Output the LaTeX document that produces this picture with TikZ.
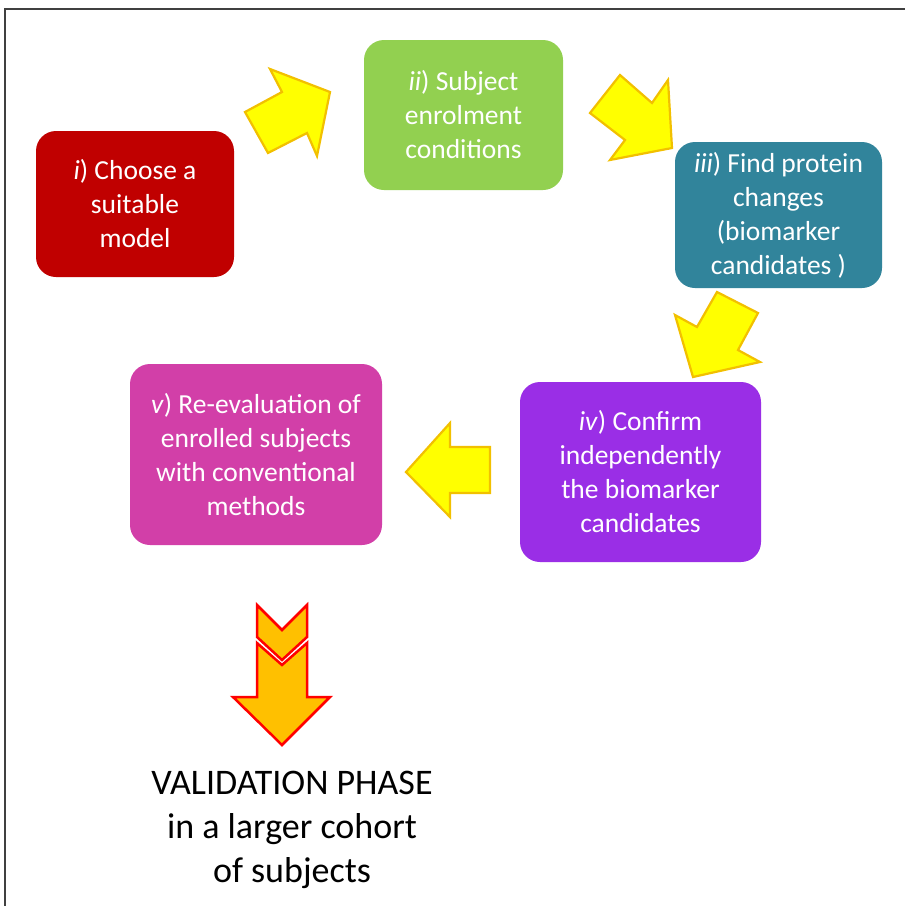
\documentclass[tikz,border=0pt]{standalone}
\usepackage{fontspec}
\setmainfont{Carlito}
\definecolor{cRed}{HTML}{C00000}
\definecolor{cGreen}{HTML}{92D050}
\definecolor{cTeal}{HTML}{31849B}
\definecolor{cPurple}{HTML}{9A2EE6}
\definecolor{cMagenta}{HTML}{D23FA8}
\definecolor{arrowFill}{HTML}{FFFF00}
\definecolor{arrowLine}{HTML}{F2C000}
\definecolor{downFill}{HTML}{FFC000}
\definecolor{downLine}{HTML}{FF0000}
\tikzset{
  stepbox/.style={rounded corners=20pt, text=white, align=center, inner sep=0pt,
    font=\fontsize{27.5}{34}\selectfont},
  blockarrow/.style={fill=arrowFill, draw=arrowLine, line width=2.2pt, line join=miter},
  downarrow/.style={fill=downFill, draw=downLine, line width=2.5pt, line join=miter},
}
\begin{document}
\begin{tikzpicture}[x=1pt,y=-1pt]
\useasboundingbox (0,0) rectangle (905,906);
\fill[white] (0,0) rectangle (905,906);
\draw[line width=1.5pt, black!75] (905,9) -- (5,9) -- (5,906);

\node[stepbox, fill=cRed, minimum width=198pt, minimum height=146pt] (s1) at (135,204)
  {\textit{i}) Choose a\\suitable\\model};
\node[stepbox, fill=cGreen, minimum width=199pt, minimum height=150pt] (s2) at (463.5,115)
  {\textit{ii}) Subject\\enrolment\\conditions};
\node[stepbox, fill=cTeal, minimum width=207pt, minimum height=146pt] (s3) at (778.5,215)
  {\textit{iii}) Find protein\\changes\\(biomarker\\candidates )};
\node[stepbox, fill=cPurple, minimum width=241pt, minimum height=180pt] (s4) at (640.5,472)
  {\textit{iv}) Confirm\\independently\\the biomarker\\candidates};
\node[stepbox, fill=cMagenta, minimum width=252pt, minimum height=181pt] (s5) at (256,454.5)
  {\textit{v}) Re-evaluation of\\enrolled subjects\\with conventional\\methods};

% block arrows
\draw[blockarrow] (270,69) -- (330,92) -- (317,156) -- (307,133) -- (268,153) -- (245,112) -- (282,92) -- cycle;
\draw[blockarrow] (620,75) -- (652,103) -- (668,80) -- (672,148) -- (610,160) -- (625,140) -- (590,113) -- cycle;
\draw[blockarrow] (717,292) -- (758,313) -- (738,350) -- (760,362) -- (693,377) -- (675,315) -- (697,327) -- cycle;
\draw[blockarrow] (406,472) -- (450,423) -- (450,447) -- (490,447) -- (490,493) -- (450,493) -- (450,517) -- cycle;

% down arrow
\draw[downarrow] (257,605) -- (282,630) -- (307,605) -- (307,637) -- (282,660) -- (257,637) -- cycle;
\draw[downarrow] (257,643) -- (282,665) -- (307,643) -- (307,697) -- (330,697) -- (282,745) -- (233,697) -- (257,697) -- cycle;

\node[align=center, font=\fontsize{36}{44}\selectfont, inner sep=0pt] (val) at (292,830)
  {VALIDATION PHASE\\ in a larger cohort\\of subjects};
\end{tikzpicture}
\end{document}
